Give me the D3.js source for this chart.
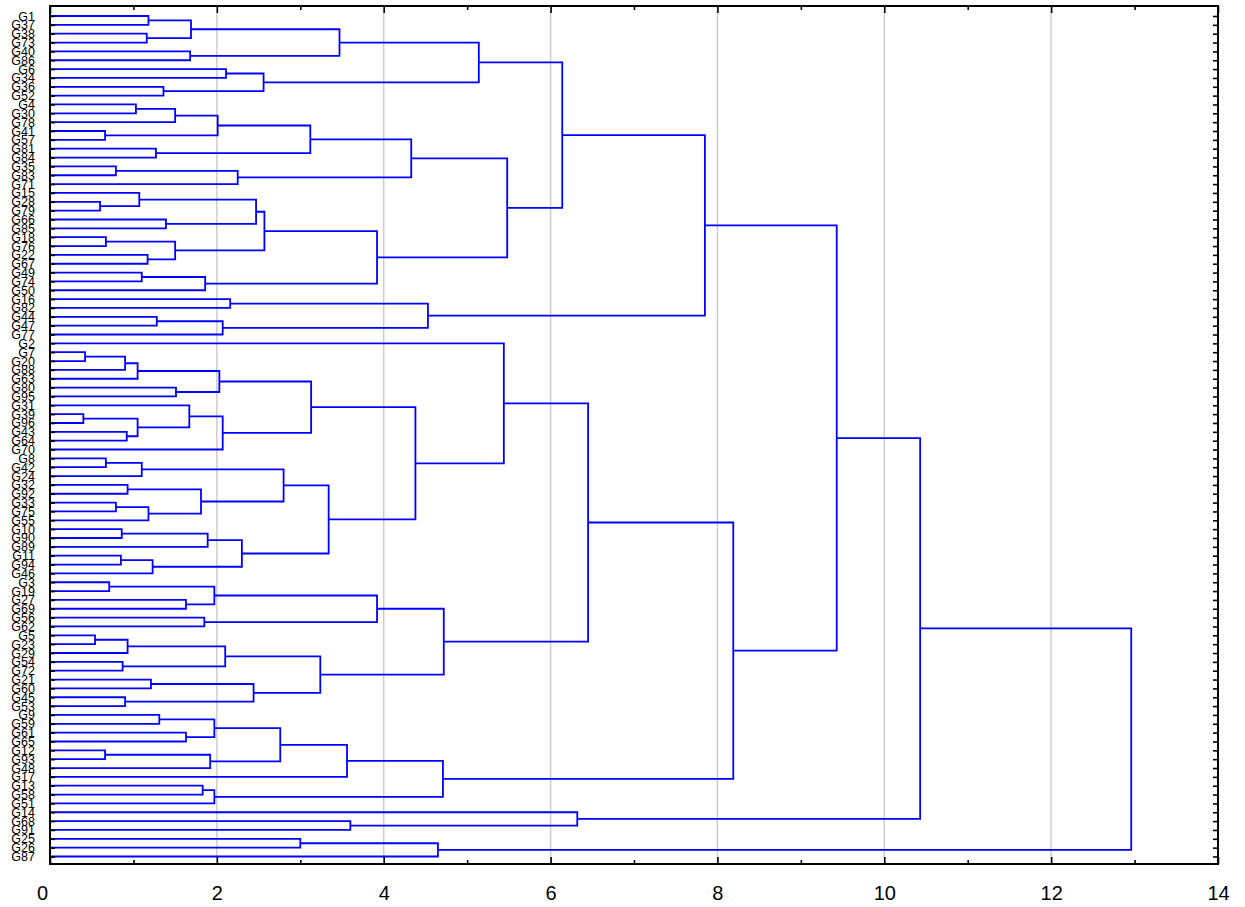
<!DOCTYPE html>
<html>
<head>
<meta charset="utf-8">
<script src="https://cdn.jsdelivr.net/npm/d3@7"></script>
<style>
  html, body { margin: 0; padding: 0; background: #fff; }
  svg { display: block; font-family: "Liberation Sans", Arial, sans-serif; }
</style>
</head>
<body>
<svg id="chart" width="1245" height="907"></svg>
<script>
// Leaf order, top to bottom
const leaves = [
  "G1","G37","G38","G73","G40","G86","G6","G34","G36","G52",
  "G4","G30","G78","G41","G57","G81","G84","G35","G83","G71",
  "G15","G28","G79","G66","G85","G18","G76","G22","G67","G49",
  "G74","G50","G16","G82","G44","G47","G77","G2","G7","G20",
  "G88","G63","G80","G95","G31","G39","G96","G43","G64","G70",
  "G8","G42","G24","G32","G92","G33","G75","G55","G10","G90",
  "G89","G11","G94","G46","G3","G19","G27","G69","G56","G62",
  "G5","G23","G29","G54","G72","G21","G60","G45","G53","G9",
  "G59","G61","G65","G12","G93","G48","G17","G13","G58","G51",
  "G14","G68","G91","G25","G26","G87"
];

// Linkage steps: [child A, child B, linkage distance]; "Ck" is the cluster made at step k
const merges = [
  ["G1","G37",1.18], ["G38","G73",1.16], ["C0","C1",1.69], ["G40","G86",1.68],
  ["C2","C3",3.47], ["G6","G34",2.11], ["G36","G52",1.36], ["C5","C6",2.56],
  ["C4","C7",5.14], ["G4","G30",1.03], ["C9","G78",1.50], ["G41","G57",0.66],
  ["C10","C11",2.01], ["G81","G84",1.27], ["C12","C13",3.12], ["G35","G83",0.79],
  ["C15","G71",2.25], ["C14","C16",4.33], ["G28","G79",0.60], ["G15","C18",1.07],
  ["G66","G85",1.39], ["C19","C20",2.47], ["G18","G76",0.67], ["G22","G67",1.17],
  ["C22","C23",1.50], ["C21","C24",2.57], ["G49","G74",1.10], ["C26","G50",1.86],
  ["C25","C27",3.92], ["C17","C28",5.48], ["C8","C29",6.14], ["G16","G82",2.16],
  ["G44","G47",1.28], ["C32","G77",2.07], ["C31","C33",4.53], ["C30","C34",7.85],
  ["G7","G20",0.42], ["C36","G88",0.90], ["C37","G63",1.05], ["G80","G95",1.51],
  ["C38","C39",2.03], ["G39","G96",0.40], ["G43","G64",0.92], ["C41","C42",1.05],
  ["G31","C43",1.67], ["C44","G70",2.07], ["C40","C45",3.13], ["G8","G42",0.67],
  ["C47","G24",1.10], ["G32","G92",0.93], ["G33","G75",0.79], ["C50","G55",1.18],
  ["C49","C51",1.81], ["C48","C52",2.80], ["G10","G90",0.86], ["C54","G89",1.89],
  ["G11","G94",0.85], ["C56","G46",1.23], ["C55","C57",2.30], ["C53","C58",3.34],
  ["C46","C59",4.38], ["G2","C60",5.44], ["G3","G19",0.71], ["G27","G69",1.63],
  ["C62","C63",1.97], ["G56","G62",1.85], ["C64","C65",3.92], ["G5","G23",0.54],
  ["C67","G29",0.93], ["G54","G72",0.87], ["C68","C69",2.10], ["G21","G60",1.21],
  ["G45","G53",0.90], ["C71","C72",2.44], ["C70","C73",3.24], ["C66","C74",4.72],
  ["C61","C75",6.45], ["G9","G59",1.31], ["G61","G65",1.63], ["C77","C78",1.97],
  ["G12","G93",0.66], ["C80","G48",1.92], ["C79","C81",2.76], ["C82","G17",3.56],
  ["G13","G58",1.83], ["C84","G51",1.97], ["C83","C85",4.71], ["C76","C86",8.19],
  ["C35","C87",9.43], ["G68","G91",3.60], ["G14","C89",6.32], ["C88","C90",10.43],
  ["G25","G26",3.00], ["C92","G87",4.65], ["C91","C93",12.96]
];

const majorTicks = [0, 2, 4, 6, 8, 10, 12, 14];
const minorTicks = [1, 3, 5, 7, 9, 11, 13];
const gridTicks = [2, 4, 6, 8, 10, 12];

const plot = { left: 50, right: 1218, top: 6, bottom: 864 };

const svg = d3.select("#chart");

const x = d3.scaleLinear().domain([0, 14]).range([plot.left, plot.right]);
const y = d3.scalePoint().domain(leaves).range([16, 856.5]);

// vertical grid
svg.append("g")
  .selectAll("line")
  .data(gridTicks)
  .join("line")
  .attr("x1", d => x(d)).attr("x2", d => x(d))
  .attr("y1", plot.top).attr("y2", plot.bottom)
  .attr("stroke", "#cdcdcd")
  .attr("stroke-width", 1.5);

// node positions
const pos = new Map();
leaves.forEach(l => pos.set(l, { x: x(0), y: y(l) }));
merges.forEach((m, k) => {
  const a = pos.get(m[0]), b = pos.get(m[1]);
  pos.set("C" + k, { x: x(m[2]), y: (a.y + b.y) / 2 });
});

// dendrogram links
svg.append("g")
  .attr("fill", "none")
  .attr("stroke", "#0000ff")
  .attr("stroke-width", 1.8)
  .selectAll("path")
  .data(merges)
  .join("path")
  .attr("d", m => {
    const a = pos.get(m[0]), b = pos.get(m[1]);
    const hx = x(m[2]);
    const p = d3.path();
    p.moveTo(a.x, a.y);
    p.lineTo(hx, a.y);
    p.lineTo(hx, b.y);
    p.lineTo(b.x, b.y);
    return p.toString();
  });

// axes
function styleAxis(g) {
  g.select(".domain").remove();
  g.selectAll(".tick line").attr("stroke", "#000").attr("stroke-width", 1.6);
}

svg.append("g")
  .attr("transform", `translate(0,${plot.bottom})`)
  .call(d3.axisBottom(x).tickValues(majorTicks).tickSize(-7).tickPadding(22).tickFormat(d3.format("d")))
  .call(styleAxis)
  .call(g => g.selectAll("text").attr("font-size", 20).attr("fill", "#000")
    .attr("font-family", "Liberation Sans, Arial, sans-serif")
    .attr("dx", d => d === 0 ? -8 : 0));

svg.append("g")
  .attr("transform", `translate(0,${plot.bottom})`)
  .call(d3.axisBottom(x).tickValues(minorTicks).tickSize(-4).tickFormat(""))
  .call(styleAxis);

svg.append("g")
  .attr("transform", `translate(0,${plot.top})`)
  .call(d3.axisTop(x).tickValues(majorTicks).tickSize(-7).tickFormat(""))
  .call(styleAxis);

svg.append("g")
  .attr("transform", `translate(0,${plot.top})`)
  .call(d3.axisTop(x).tickValues(minorTicks).tickSize(-4).tickFormat(""))
  .call(styleAxis);

svg.append("g")
  .attr("transform", `translate(${plot.left},0)`)
  .call(d3.axisLeft(y).tickSize(-5).tickPadding(15))
  .call(styleAxis)
  .call(g => g.selectAll("text").attr("font-size", 12.5).attr("fill", "#000")
    .attr("font-family", "Liberation Sans, Arial, sans-serif"));

svg.append("g")
  .attr("transform", `translate(${plot.right},0)`)
  .call(d3.axisRight(y).tickSize(-5).tickFormat(""))
  .call(styleAxis);

// frame
svg.append("rect")
  .attr("x", plot.left).attr("y", plot.top)
  .attr("width", plot.right - plot.left).attr("height", plot.bottom - plot.top)
  .attr("fill", "none").attr("stroke", "#000").attr("stroke-width", 2);
</script>
</body>
</html>
